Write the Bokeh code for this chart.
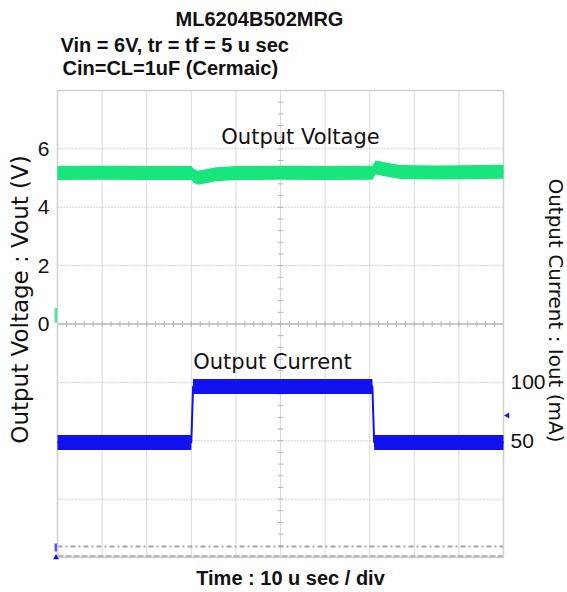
import numpy as np
from bokeh.plotting import figure
from bokeh.models import Range1d, Label
from bokeh.core.properties import value
from bokeh.embed import file_html
from bokeh.resources import INLINE

# ---------------- data ----------------
title = "ML6204B502MRG"
subtitle1 = "Vin = 6V, tr = tf = 5 u sec"
subtitle2 = "Cin=CL=1uF (Cermaic)"
x_title = "Time : 10 u sec / div"
y_title = "Output Voltage : Vout (V)"
y2_title = "Output Current : Iout (mA)"
vout_name = "Output Voltage"
iout_name = "Output Current"

# time in micro-seconds (10 us / div, 10 divisions)
vout_t = [0, 10, 20, 30.0, 30.6, 31.5, 33.0, 35.5, 40, 50, 60, 70.6, 71.3, 72.5, 74.5, 77.0, 85, 100]
vout_v = [5.17, 5.18, 5.17, 5.17, 5.07, 5.01, 5.05, 5.13, 5.17, 5.18, 5.17, 5.18, 5.36, 5.33, 5.27, 5.21, 5.19, 5.22]
vout_band = 0.24  # half thickness of the noisy trace (V)

iout_t = [0, 10, 20, 30.0, 30.4, 40, 50, 60, 70.6, 71.0, 80, 90, 100]
iout_ma = [48.5, 48.5, 48.5, 48.5, 96.5, 96.5, 96.5, 96.5, 96.5, 48.5, 48.5, 48.5, 48.5]
iout_band = 6.4  # half thickness of the noisy trace (mA)

volt_ticks = [0, 2, 4, 6]
curr_ticks = [50, 100]
volt_range = (-8, 8)      # 2 V / div, 8 divisions
curr_range = (-50, 350)   # 50 mA / div, 8 divisions
time_range = (0, 100)     # 10 us / div, 10 divisions

GREEN = "#17e67c"
BLUE = "#1212f0"
INK = "#111111"

# ---------------- page geometry ----------------
W, H = 567, 592
FL, FT, FW, FH = 57, 90, 446, 467  # scope screen on the page (px)


def tx(px):
    return time_range[0] + (px - FL) / FW * (time_range[1] - time_range[0])


def vy(py):
    return volt_range[1] - (py - FT) / FH * (volt_range[1] - volt_range[0])


def iy(py):
    return curr_range[1] - (py - FT) / FH * (curr_range[1] - curr_range[0])


p = figure(width=W, height=H, output_backend="svg", toolbar_location=None,
           x_range=Range1d(tx(0), tx(W)), y_range=Range1d(vy(H), vy(0)),
           x_axis_type=None, y_axis_type=None,
           min_border=0, min_border_left=0, min_border_right=0,
           min_border_top=0, min_border_bottom=0)
p.outline_line_color = None
p.background_fill_color = "white"
p.border_fill_color = "white"
p.extra_y_ranges = {"current": Range1d(iy(H), iy(0))}

t0, t1 = time_range
v0, v1 = volt_range

# ---------------- graticule ----------------
vx = np.arange(t0 + 10, t1, 10.0)
p.segment(x0=vx, x1=vx, y0=v0, y1=v1, line_color="#d9d9d9", line_width=1)
hy = np.array([-6, -4, -2, 2, 4, 6], dtype=float)
p.segment(x0=t0, x1=t1, y0=hy, y1=hy, line_color="#a8a8a8", line_width=1, line_dash="1 2")
p.segment(x0=[t0], x1=[t1], y0=[0], y1=[0], line_color="#b4b4b4", line_width=1.5)
tt = np.arange(t0, t1 + 0.01, 2.0)
p.segment(x0=tt, x1=tt, y0=-0.1, y1=0.1, line_color="#b4b4b4", line_width=1)
tv = np.arange(v0, v1 + 0.01, 0.4)
p.segment(x0=49.4, x1=50.6, y0=tv, y1=tv, line_color="#b4b4b4", line_width=1)
# bottom reference lines
p.segment(x0=[t0], x1=[t1], y0=[-7.62], y1=[-7.62], line_color="#a6a6a6", line_width=2,
          line_dash="5 3 2 3")
p.segment(x0=[t0], x1=[t1], y0=[-7.96], y1=[-7.96], line_color="#a6a6a6", line_width=2,
          line_dash="6 2")
# screen outline
p.quad(left=[t0], right=[t1], bottom=[v0], top=[v1], fill_color=None,
       line_color="#cfcfcf", line_width=1.5)

# ---------------- traces ----------------
vt = np.array(vout_t, dtype=float)
vv = np.array(vout_v, dtype=float)
p.varea(x=vt, y1=vv - vout_band, y2=vv + vout_band, fill_color=GREEN)
p.line(vt, vv, line_color=GREEN, line_width=2)

it = np.array(iout_t, dtype=float)
iv = np.array(iout_ma, dtype=float)
p.varea(x=it, y1=iv - iout_band, y2=iv + iout_band, fill_color=BLUE, y_range_name="current")
p.line(it, iv, line_color=BLUE, line_width=2, y_range_name="current")

# channel markers
p.quad(left=[tx(54)], right=[tx(56.5)], bottom=[0.05], top=[0.55], fill_color=GREEN,
       line_color=None, fill_alpha=0.8)
p.quad(left=[tx(54)], right=[tx(56.5)], bottom=[vy(551)], top=[vy(543)], fill_color=BLUE,
       line_color=None, fill_alpha=0.7)
p.scatter(x=[tx(55.5)], y=[vy(557)], marker="triangle", size=6, fill_color=BLUE,
          line_color=None)
p.scatter(x=[tx(507)], y=[iy(415)], marker="triangle", angle=np.pi / 2, size=6,
          fill_color=BLUE, line_color=None, y_range_name="current")

# ---------------- tick labels ----------------
TICK_FONT = "Liberation Sans"
p.text(x=[tx(49)] * len(volt_ticks), y=volt_ticks, text=[str(v) for v in volt_ticks],
       text_font=value(TICK_FONT), text_font_size="21px", text_align="right",
       text_baseline="middle", text_color=INK)
p.text(x=[tx(510)] * len(curr_ticks), y=curr_ticks, text=[str(c) for c in curr_ticks],
       text_font=value(TICK_FONT), text_font_size="21px", text_align="left",
       text_baseline="middle", text_color=INK, y_range_name="current")

# ---------------- texts ----------------
BOLD = "Liberation Sans"
SANS = "DejaVu Sans"


def add_label(px, py, text, font, size, style="normal", align="left", angle=0.0):
    p.add_layout(Label(x=tx(px), y=vy(py), text=text, text_font=font, text_font_size=size,
                       text_font_style=style, text_align=align, text_baseline="middle",
                       angle=angle, text_color=INK))


add_label(259, 18.5, title, BOLD, "20px", "bold", "center")
add_label(60, 44, subtitle1, BOLD, "20px", "bold", "left")
add_label(62, 67, subtitle2, BOLD, "20px", "bold", "left")
add_label(290, 577, x_title, BOLD, "20px", "bold", "center")
add_label(19, 299, y_title, SANS, "23px", "normal", "center", np.pi / 2)
add_label(555, 310, y2_title, SANS, "20px", "normal", "center", -np.pi / 2)
add_label(300, 136, vout_name, SANS, "21px", "normal", "center")
add_label(272, 361, iout_name, SANS, "21px", "normal", "center")

open("out.html", "w").write(file_html(p, INLINE))
